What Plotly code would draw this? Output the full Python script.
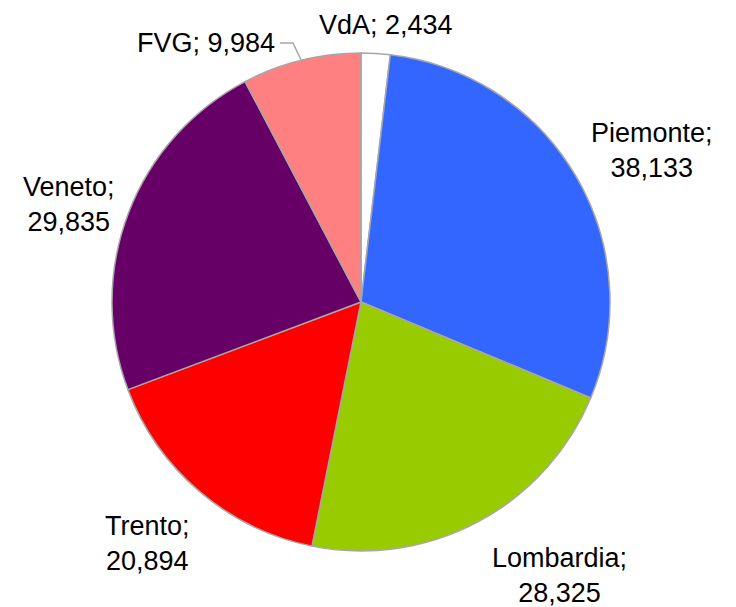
import plotly.graph_objects as go

regions = ["VdA", "Piemonte", "Lombardia", "Trento", "Veneto", "FVG"]
values = [2434, 38133, 28325, 20894, 29835, 9984]
colors = ["#FFFFFF", "#3366FF", "#99CC00", "#FF0000", "#660066", "#FF8080"]

W, H = 736, 607

fig = go.Figure(go.Pie(
    labels=regions,
    values=values,
    sort=False,
    direction="clockwise",
    rotation=0,
    marker=dict(colors=colors, line=dict(color="#A6A6A6", width=1.5)),
    textinfo="none",
    hoverinfo="label+value",
    showlegend=False,
    domain=dict(x=[112 / W, 610 / W], y=[1 - 551 / H, 1 - 53 / H]),
))

# label anchor positions in pixels (center of text block), and whether one line
label_pos = {
    "VdA": (386, 25, True),
    "FVG": (206, 43, True),
    "Piemonte": (652, 150, False),
    "Lombardia": (559, 575, False),
    "Trento": (147, 543, False),
    "Veneto": (69, 204, False),
}

annotations = []
for name, val in zip(regions, values):
    px, py, one_line = label_pos[name]
    sep = " " if one_line else "<br>"
    annotations.append(dict(
        text=f"{name};{sep}{val:,}",
        xref="paper", yref="paper",
        x=px / W, y=1 - py / H,
        xanchor="center", yanchor="middle",
        showarrow=False,
        align="center",
        font=dict(family="Liberation Sans, Arial, sans-serif", size=27, color="#000000"),
    ))

# leader line for FVG label
shapes = [dict(
    type="path", xref="paper", yref="paper",
    path=f"M {280 / W},{1 - 43 / H} L {293 / W},{1 - 43 / H} L {302 / W},{1 - 62 / H}",
    line=dict(color="#A6A6A6", width=1.5),
)]

fig.update_layout(
    width=W, height=H,
    margin=dict(l=0, r=0, t=0, b=0),
    paper_bgcolor="#FFFFFF",
    plot_bgcolor="#FFFFFF",
    annotations=annotations,
    shapes=shapes,
)

fig.write_html(
    "out.html",
    config={"displayModeBar": False},
    post_script="document.body.style.margin='0';document.body.style.padding='0';",
)
